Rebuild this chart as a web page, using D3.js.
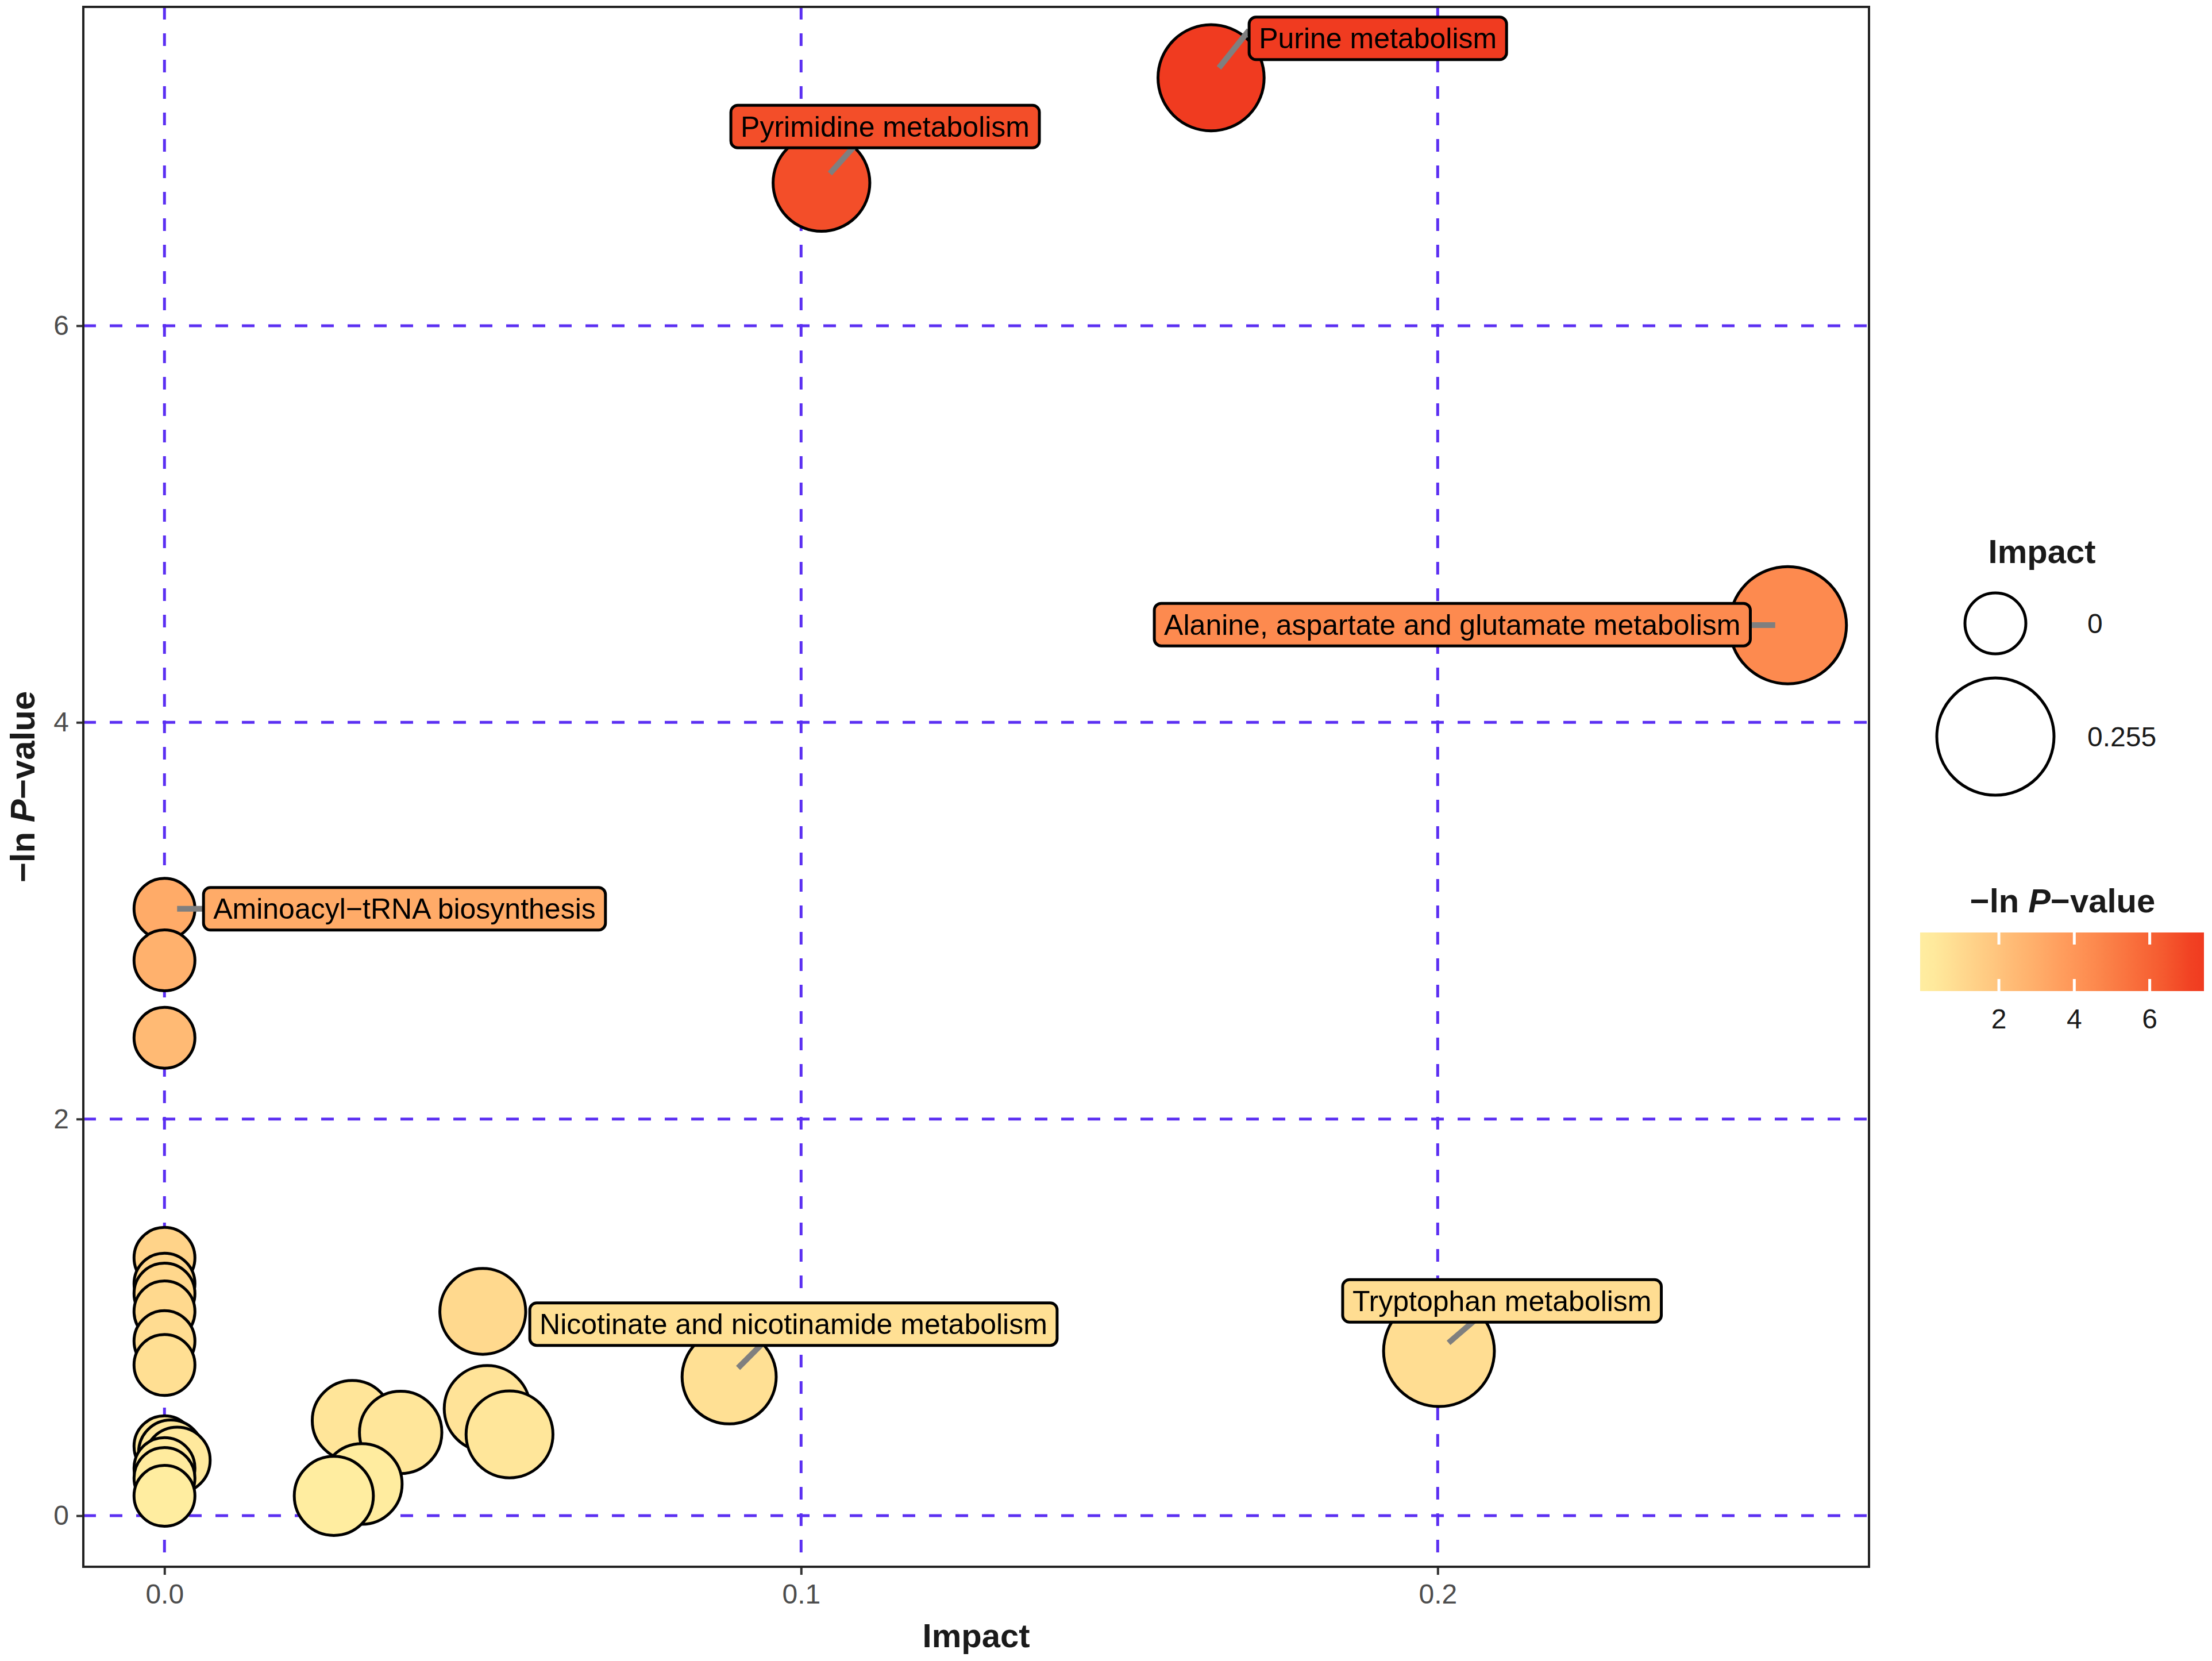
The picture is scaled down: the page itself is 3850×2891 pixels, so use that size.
<!DOCTYPE html>
<html>
<head>
<meta charset="utf-8">
<script src="https://cdn.jsdelivr.net/npm/d3@7"></script>
<style>
  body { margin: 0; background: #fff; }
  text { font-family: "Liberation Sans", Arial, sans-serif; }
</style>
</head>
<body>
<svg id="chart" width="3850" height="2891"></svg>
<script>
// pathways, ordered by -ln P (descending) so lower points are drawn on top
const pathway = [
  "Purine metabolism", "Pyrimidine metabolism", "Alanine, aspartate and glutamate metabolism",
  "Aminoacyl\u2212tRNA biosynthesis", "", "", "", "", "", "", "", "",
  "Tryptophan metabolism", "", "Nicotinate and nicotinamide metabolism",
  "", "", "", "", "", "", "", "", "", "", "", ""
];
const impact = [
  0.1644, 0.1032, 0.2550,
  0, 0, 0, 0, 0, 0, 0, 0.0500, 0,
  0.2002, 0, 0.0887,
  0.0507, 0.0295, 0.0371, 0.0542, 0, 0.001, 0.002, 0, 0, 0.0310, 0, 0.0266
];
const negLnP = [
  7.25, 6.72, 4.49,
  3.06, 2.80, 2.41, 1.30, 1.17, 1.12, 1.03, 1.03, 0.88,
  0.83, 0.76, 0.70,
  0.54, 0.48, 0.42, 0.41, 0.35, 0.32, 0.28, 0.24, 0.19, 0.16, 0.10, 0.10
];
const xTicks = [0, 0.1, 0.2];
const yTicks = [0, 2, 4, 6];
const colourTicks = [2, 4, 6];
const sizeBreaks = [0, 0.255];

// repelled label layout (data units): box centre, then where the leader line meets the box
const labelAt = {
  "Purine metabolism": [0.1906, 7.449, 0.1698, 7.467],
  "Pyrimidine metabolism": [0.1132, 7.004, 0.1086, 6.913],
  "Alanine, aspartate and glutamate metabolism": [0.2023, 4.493, 0.2023, 4.493],
  "Aminoacyl\u2212tRNA biosynthesis": [0.0377, 3.06, 0.0377, 3.06],
  "Nicotinate and nicotinamide metabolism": [0.0988, 0.966, 0.0938, 0.864],
  "Tryptophan metabolism": [0.2101, 1.083, 0.2054, 0.974]
};

const svg = d3.select("#chart");
const panel = { left: 145, right: 3253, top: 12, bottom: 2727 };

const data = pathway.map((p, i) => ({ name: p, impact: impact[i], p: negLnP[i] }));

const xExt = d3.extent(impact), yExt = d3.extent(negLnP);
const xPad = (xExt[1] - xExt[0]) * 0.05, yPad = (yExt[1] - yExt[0]) * 0.05;

const x = d3.scaleLinear().domain([xExt[0] - xPad, xExt[1] + xPad]).range([panel.left, panel.right]);
const y = d3.scaleLinear().domain([yExt[0] - yPad, yExt[1] + yPad]).range([panel.bottom, panel.top]);
const r = d3.scaleSqrt().domain([0, 0.255]).range([53, 102]);
const colour = d3.scaleLinear().domain(yExt).range(["#FFEDA0", "#F03B20"]).interpolate(d3.interpolateLab);

// grid
const grid = svg.append("g").attr("stroke", "#5B2FF2").attr("stroke-width", 5).attr("stroke-dasharray", "22,24");
grid.selectAll(".gx").data(xTicks).enter().append("line")
  .attr("x1", d => x(d)).attr("x2", d => x(d)).attr("y1", panel.top).attr("y2", panel.bottom);
grid.selectAll(".gy").data(yTicks).enter().append("line")
  .attr("y1", d => y(d)).attr("y2", d => y(d)).attr("x1", panel.left).attr("x2", panel.right);

// axes
const xAxis = svg.append("g").attr("transform", `translate(0,${panel.bottom})`)
  .call(d3.axisBottom(x).tickValues(xTicks).tickFormat(d3.format(".1f")).tickSize(14).tickPadding(16));
const yAxis = svg.append("g").attr("transform", `translate(${panel.left},0)`)
  .call(d3.axisLeft(y).tickValues(yTicks).tickFormat(d3.format("d")).tickSize(12).tickPadding(13));
[xAxis, yAxis].forEach(a => {
  a.select(".domain").remove();
  a.selectAll(".tick line").attr("stroke", "#333").attr("stroke-width", 4);
  a.selectAll(".tick text").attr("fill", "#4D4D4D").style("font-size", "48px")
    .style("font-family", "'Liberation Sans', Arial, sans-serif");
});

svg.append("rect")
  .attr("x", panel.left).attr("y", panel.top)
  .attr("width", panel.right - panel.left).attr("height", panel.bottom - panel.top)
  .attr("fill", "none").attr("stroke", "#222").attr("stroke-width", 4);

// points
svg.append("g").selectAll("circle").data(data).enter().append("circle")
  .attr("cx", d => x(d.impact)).attr("cy", d => y(d.p)).attr("r", d => r(d.impact))
  .attr("fill", d => colour(d.p)).attr("stroke", "#000").attr("stroke-width", 5);

// labels
const labelled = data.filter(d => d.name);
const segG = svg.append("g"), boxG = svg.append("g"), txtG = svg.append("g");
labelled.forEach(d => {
  const px = x(d.impact), py = y(d.p);
  const pos = labelAt[d.name];
  const lx = x(pos[0]), ly = y(pos[1]);
  const sx = x(pos[2]), sy = y(pos[3]);
  const dx = sx - px, dy = sy - py, len = Math.hypot(dx, dy);
  segG.append("line")
    .attr("x1", px + dx / len * 22).attr("y1", py + dy / len * 22)
    .attr("x2", sx + dx / len * 10).attr("y2", sy + dy / len * 10)
    .attr("stroke", "#7F7F7F").attr("stroke-width", 10);
  const t = txtG.append("text").attr("x", lx).attr("y", ly).attr("dy", "0.35em")
    .attr("text-anchor", "middle").style("font-size", "50px").attr("fill", "#000").text(d.name);
  const w = t.node().getComputedTextLength() + 34, h = 74;
  boxG.append("rect").attr("x", lx - w / 2).attr("y", ly - h / 2).attr("width", w).attr("height", h)
    .attr("rx", 12).attr("fill", colour(d.p)).attr("stroke", "#000").attr("stroke-width", 5);
});

// axis titles
svg.append("text").attr("x", (panel.left + panel.right) / 2).attr("y", 2867)
  .attr("text-anchor", "middle").style("font-size", "58px").style("font-weight", "bold").attr("fill", "#1a1a1a")
  .text("Impact");
const yt = svg.append("text").attr("transform", `translate(60,${(panel.top + panel.bottom) / 2}) rotate(-90)`)
  .attr("text-anchor", "middle").style("font-size", "60px").style("font-weight", "bold").attr("fill", "#1a1a1a");
yt.append("tspan").text("\u2212ln ");
yt.append("tspan").style("font-style", "italic").text("P");
yt.append("tspan").text("\u2212value");

// size legend
const lg = svg.append("g");
lg.append("text").attr("x", 3554).attr("y", 980).attr("text-anchor", "middle")
  .style("font-size", "58px").style("font-weight", "bold").attr("fill", "#1a1a1a").text("Impact");
const keyY = [1085, 1282];
lg.selectAll("circle").data(sizeBreaks).enter().append("circle")
  .attr("cx", 3473).attr("cy", (d, i) => keyY[i]).attr("r", d => r(d))
  .attr("fill", "none").attr("stroke", "#000").attr("stroke-width", 5);
lg.selectAll(".lab").data(sizeBreaks).enter().append("text")
  .attr("x", 3633).attr("y", (d, i) => keyY[i]).attr("dy", "0.35em")
  .style("font-size", "48px").attr("fill", "#1a1a1a").text(d => d === 0 ? "0" : d3.format(".3f")(d));

// colour legend
const cb = { x: 3342, y: 1623, w: 494, h: 102 };
const ct = svg.append("text").attr("x", 3590).attr("y", 1588).attr("text-anchor", "middle")
  .style("font-size", "58px").style("font-weight", "bold").attr("fill", "#1a1a1a");
ct.append("tspan").text("\u2212ln ");
ct.append("tspan").style("font-style", "italic").text("P");
ct.append("tspan").text("\u2212value");

const cbX = d3.scaleLinear().domain(yExt).range([cb.x + 0.025 * cb.w, cb.x + 0.975 * cb.w]);
const grad = svg.append("defs").append("linearGradient").attr("id", "cbar");
const stops = d3.range(0, 1.0001, 0.05);
grad.selectAll("stop").data(stops).enter().append("stop")
  .attr("offset", d => d)
  .attr("stop-color", d => colour(Math.max(yExt[0], Math.min(yExt[1], cbX.invert(cb.x + d * cb.w)))));
svg.append("rect").attr("x", cb.x).attr("y", cb.y).attr("width", cb.w).attr("height", cb.h).attr("fill", "url(#cbar)");
const cbt = svg.append("g").attr("stroke", "#fff").attr("stroke-width", 5);
colourTicks.forEach(t => {
  cbt.append("line").attr("x1", cbX(t)).attr("x2", cbX(t)).attr("y1", cb.y).attr("y2", cb.y + 21);
  cbt.append("line").attr("x1", cbX(t)).attr("x2", cbX(t)).attr("y1", cb.y + cb.h - 21).attr("y2", cb.y + cb.h);
});
svg.append("g").selectAll("text").data(colourTicks).enter().append("text")
  .attr("x", d => cbX(d)).attr("y", 1790).attr("text-anchor", "middle")
  .style("font-size", "48px").attr("fill", "#1a1a1a").text(d => d);
</script>
</body>
</html>
